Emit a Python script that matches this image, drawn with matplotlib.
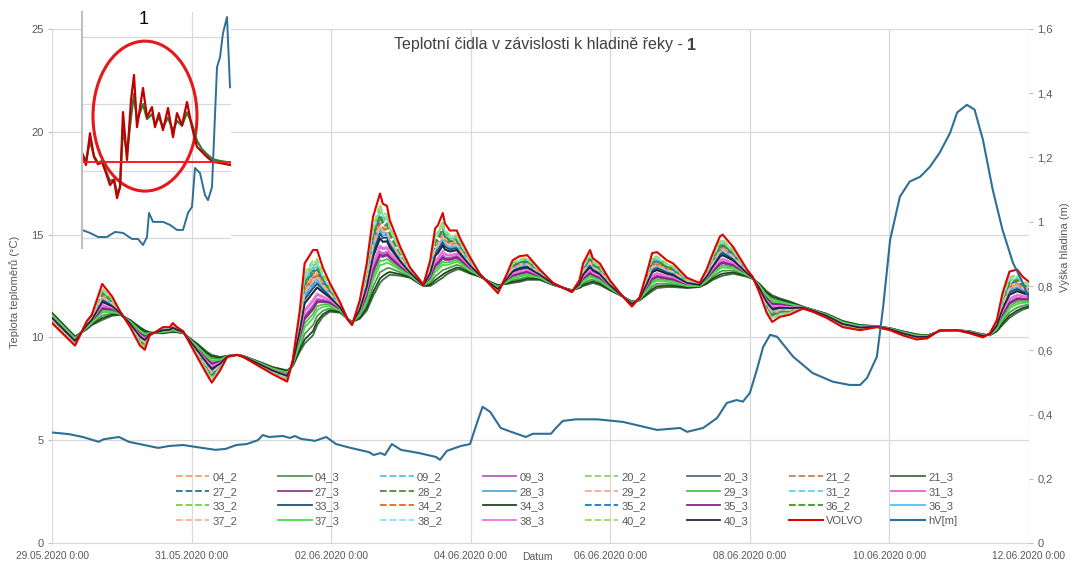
import matplotlib
matplotlib.use('Agg')
import matplotlib.pyplot as plt
import numpy as np
import pandas as pd
from matplotlib.patches import Ellipse

plt.rcParams['font.family'] = ['Liberation Sans', 'DejaVu Sans']

start = pd.Timestamp('2020-05-29')

# time of the readings, days after 29.05.2020 0:00
t_days = [
    0.00, 0.33, 0.50, 0.57, 0.72, 0.86, 0.97, 1.12, 1.26, 1.33,
    1.40, 1.50, 1.59, 1.69, 1.73, 1.79, 1.88, 2.08, 2.22, 2.29,
    2.41, 2.51, 2.65, 2.74, 2.94, 3.17, 3.37, 3.45, 3.55, 3.62,
    3.74, 3.80, 3.88, 3.98, 4.13, 4.24, 4.30, 4.41, 4.51, 4.60,
    4.70, 4.74, 4.80, 4.84, 4.99, 5.13, 5.27, 5.32, 5.42, 5.49,
    5.53, 5.60, 5.63, 5.70, 5.80, 5.85, 5.99, 6.13, 6.28, 6.39,
    6.52, 6.60, 6.70, 6.81, 6.99, 7.18, 7.45, 7.56, 7.61, 7.71,
    7.75, 7.85, 7.99, 8.14, 8.31, 8.42, 8.52, 8.60, 8.67, 8.81,
    8.90, 9.10, 9.28, 9.38, 9.47, 9.57, 9.61, 9.76, 9.96, 10.04,
    10.14, 10.24, 10.32, 10.43, 10.57, 10.76, 10.90, 11.10, 11.33, 11.58,
    11.82, 12.01, 12.19, 12.39, 12.54, 12.72, 12.97, 13.15, 13.34, 13.44,
    13.54, 13.62, 13.72, 13.83, 13.91, 14.00]

# VOLVO sensor (largest daily swing)
volvo = [
    10.7, 9.6, 10.8, 11.1, 12.6, 12.0, 11.3, 10.5, 9.6, 9.4,
    10.1, 10.3, 10.5, 10.5, 10.7, 10.5, 10.3, 9.05, 8.2, 7.8,
    8.4, 9.05, 9.15, 9.05, 8.65, 8.2, 7.85, 8.9, 11.3, 13.6,
    14.25, 14.25, 13.4, 12.65, 11.7, 10.85, 10.6, 11.8, 13.6, 15.85,
    17.0, 16.5, 16.4, 15.7, 14.4, 13.4, 12.8, 12.55, 13.75, 15.3,
    15.45, 16.05, 15.55, 15.2, 15.2, 14.8, 13.9, 13.1, 12.55, 12.15,
    13.1, 13.75, 13.95, 14.0, 13.3, 12.65, 12.2, 12.8, 13.6, 14.25,
    13.85, 13.6, 12.8, 12.15, 11.5, 11.95, 13.1, 14.1, 14.15, 13.75,
    13.6, 12.9, 12.65, 13.3, 14.1, 14.9, 15.0, 14.4, 13.3, 12.95,
    12.15, 11.2, 10.75, 11.0, 11.1, 11.4, 11.25, 10.95, 10.5, 10.35,
    10.5, 10.35, 10.1, 9.9, 9.95, 10.35, 10.35, 10.2, 10.0, 10.2,
    10.85, 12.15, 13.2, 13.3, 12.95, 12.7]

# most damped thermometer (21_3)
damped = [
    11.2, 10.05, 10.4, 10.6, 10.85, 11.05, 11.1, 10.85, 10.5, 10.35,
    10.25, 10.2, 10.2, 10.25, 10.25, 10.25, 10.2, 9.7, 9.3, 9.15,
    9.05, 9.1, 9.15, 9.1, 8.85, 8.55, 8.4, 8.6, 9.3, 9.7,
    10.1, 10.6, 11.0, 11.25, 11.2, 10.9, 10.75, 10.9, 11.3, 12.0,
    12.65, 12.8, 12.95, 13.05, 13.0, 12.9, 12.6, 12.5, 12.5, 12.65,
    12.75, 12.9, 13.0, 13.15, 13.3, 13.3, 13.1, 12.95, 12.7, 12.55,
    12.6, 12.65, 12.7, 12.8, 12.8, 12.55, 12.3, 12.4, 12.5, 12.6,
    12.65, 12.55, 12.3, 12.05, 11.75, 11.8, 12.05, 12.25, 12.4, 12.45,
    12.45, 12.4, 12.45, 12.6, 12.8, 12.95, 13.0, 13.1, 12.95, 12.85,
    12.6, 12.25, 12.05, 11.9, 11.75, 11.5, 11.35, 11.15, 10.8, 10.6,
    10.55, 10.45, 10.3, 10.15, 10.1, 10.3, 10.35, 10.3, 10.15, 10.1,
    10.3, 10.6, 10.95, 11.2, 11.35, 11.45]

sensor_names = ['04_2', '04_3', '09_2', '09_3', '20_2', '20_3', '21_2', '21_3',
                '27_2', '27_3', '28_2', '28_3', '29_2', '29_3', '31_2', '31_3',
                '33_2', '33_3', '34_2', '34_3', '35_2', '35_3', '36_2', '36_3',
                '37_2', '37_3', '38_2', '38_3', '40_2', '40_3']
# share of the VOLVO daily swing each thermometer follows (0 = 21_3, 1 = VOLVO)
sensor_swing = [0.62, 0.12, 0.78, 0.35, 0.85, 0.50, 0.68, 0.00,
                0.60, 0.30, 0.72, 0.58, 0.70, 0.25, 0.80, 0.40,
                0.82, 0.55, 0.66, 0.05, 0.74, 0.32, 0.76, 0.62,
                0.64, 0.20, 0.84, 0.42, 0.88, 0.50]
sensor_colors = ['#f4a06a', '#4f9a4f', '#5bc0eb', '#b65fc0', '#8ed36b', '#4a6d8c', '#c8804f', '#3f6f3f',
                 '#2f6f9a', '#8b3f8b', '#4f8a3a', '#5aaad8', '#f8a98a', '#4fc04f', '#66ccff', '#e066cc',
                 '#6fd43a', '#1f4e79', '#e8641e', '#1e4a1e', '#1a7ac8', '#8e1e8e', '#3a9a1a', '#4fc3f7',
                 '#ffb08a', '#44dd44', '#88ddff', '#ee77dd', '#99dd55', '#1a2a3a']

# river level hV [m]
hv_days = [0.00, 0.24, 0.44, 0.67, 0.74, 0.96, 1.10, 1.52, 1.68, 1.88,
           2.03, 2.34, 2.49, 2.64, 2.79, 2.95, 3.02, 3.11, 3.31, 3.41,
           3.48, 3.57, 3.77, 3.93, 4.07, 4.28, 4.54, 4.61, 4.71, 4.77,
           4.87, 5.00, 5.26, 5.50, 5.56, 5.66, 5.86, 5.99, 6.09, 6.17,
           6.28, 6.43, 6.58, 6.79, 6.89, 7.15, 7.22, 7.32, 7.51, 7.81,
           8.18, 8.67, 9.00, 9.10, 9.33, 9.53, 9.67, 9.81, 9.90, 10.00,
           10.10, 10.19, 10.29, 10.39, 10.62, 10.90, 11.19, 11.43, 11.58, 11.68,
           11.82, 11.91, 12.01, 12.15, 12.29, 12.44, 12.58, 12.72, 12.87, 12.97,
           13.11, 13.22, 13.34, 13.48, 13.62, 13.77, 13.91, 14.00]
hv_level = [0.344, 0.339, 0.33, 0.315, 0.323, 0.33, 0.315, 0.296, 0.302, 0.305,
            0.30, 0.29, 0.293, 0.305, 0.308, 0.32, 0.336, 0.33, 0.333, 0.327,
            0.333, 0.324, 0.318, 0.33, 0.308, 0.296, 0.283, 0.274, 0.28, 0.274,
            0.308, 0.29, 0.28, 0.268, 0.259, 0.287, 0.302, 0.308, 0.374, 0.424,
            0.408, 0.358, 0.346, 0.33, 0.34, 0.34, 0.358, 0.38, 0.385, 0.385,
            0.377, 0.352, 0.358, 0.346, 0.358, 0.389, 0.436, 0.445, 0.44, 0.467,
            0.539, 0.61, 0.648, 0.642, 0.58, 0.529, 0.502, 0.492, 0.492, 0.514,
            0.58, 0.735, 0.944, 1.078, 1.125, 1.14, 1.171, 1.215, 1.277, 1.34,
            1.364, 1.349, 1.255, 1.10, 0.975, 0.872, 0.81, 0.76]

x_tick_labels = ['29.05.2020 0:00', '31.05.2020 0:00', '02.06.2020 0:00', '04.06.2020 0:00',
                 '06.06.2020 0:00', '08.06.2020 0:00', '10.06.2020 0:00', '12.06.2020 0:00']
right_tick_labels = ['0', '0,2', '0,4', '0,6', '0,8', '1', '1,2', '1,4', '1,6']

# inset (detail of event 1)
inset_t = [0, 4, 8, 12, 16, 20, 24, 28, 32, 35, 38, 41, 45, 49, 52, 55, 61,
           65, 70, 73, 77, 81, 86, 91, 95, 100, 105, 110, 115, 120, 125, 131, 138, 148]
inset_volvo = [18.5, 18.18, 19.13, 18.42, 18.2, 18.27, 17.94, 17.58, 17.73, 17.19, 17.52, 19.76,
               18.33, 20.12, 20.87, 19.31, 20.48, 19.61, 19.91, 19.31, 19.73, 19.22, 19.88, 19.01,
               19.73, 19.37, 20.06, 19.31, 18.72, 18.57, 18.42, 18.27, 18.24, 18.18]
inset_other = [18.55, 18.3, 18.9, 18.45, 18.25, 18.3, 18.0, 17.7, 17.75, 17.35, 17.5, 19.3,
               18.5, 19.6, 20.3, 19.5, 20.0, 19.55, 19.7, 19.4, 19.6, 19.3, 19.6, 19.2,
               19.5, 19.35, 19.75, 19.4, 18.9, 18.65, 18.5, 18.35, 18.3, 18.25]
inset_hv_t = [0, 8, 16, 25, 33, 41, 50, 56, 61, 65, 67, 71, 81, 88, 95, 101, 106, 110,
              113, 118, 123, 126, 130, 135, 138, 141, 145, 148]
inset_hv = [16.24, 16.15, 16.03, 16.03, 16.18, 16.15, 15.97, 15.97, 15.79, 16.03, 16.75, 16.48,
            16.48, 16.39, 16.24, 16.24, 16.75, 16.93, 18.09, 17.94, 17.28, 17.13, 17.52, 21.1,
            21.4, 22.12, 22.6, 20.5]
inset_ref = 18.27

grid_c = '#d9d9d9'
text_c = '#595959'

t = start + pd.to_timedelta(t_days, unit='D')
t_hv = start + pd.to_timedelta(hv_days, unit='D')
volvo_a = np.array(volvo)
damped_a = np.array(damped)

fig = plt.figure(figsize=(10.72, 5.65), dpi=100)
ax = fig.add_axes([52 / 1072, 22 / 565, 977 / 1072, 514 / 565])
ax2 = ax.twinx()

handles = []
for name, w, c in zip(sensor_names, sensor_swing, sensor_colors):
    ls = '--' if name.endswith('_2') else '-'
    vals = damped_a + w * (volvo_a - damped_a)
    h, = ax.plot(t, vals, color=c, lw=1.3, ls=ls, label=name)
    handles.append(h)
h, = ax.plot(t, volvo_a, color='#e00000', lw=1.5, label='VOLVO')
handles.append(h)
h, = ax2.plot(t_hv, hv_level, color='#2e6f95', lw=1.5, label='hV[m]')
handles.append(h)

ticks = pd.date_range(start, periods=8, freq='2D')
ax.set_xlim(start, start + pd.Timedelta(days=14))
ax.set_xticks(ticks)
ax.set_xticklabels(x_tick_labels)
ax.set_ylim(0, 25)
ax.set_yticks([0, 5, 10, 15, 20, 25])
ax2.set_ylim(0, 1.6)
ax2.set_yticks(np.arange(0, 1.61, 0.2))
ax2.set_yticklabels(right_tick_labels)

ax.grid(True, color=grid_c, lw=0.9)
ax.set_axisbelow(True)
for a in (ax, ax2):
    for s in a.spines.values():
        s.set_visible(False)
ax.spines['bottom'].set_visible(True)
ax.spines['bottom'].set_color(grid_c)
ax.tick_params(axis='x', length=0, pad=6, labelsize=7.3, labelcolor=text_c)
ax.tick_params(axis='y', length=3, color='#bfbfbf', pad=3, labelsize=8, labelcolor=text_c)
ax2.tick_params(axis='y', length=3, color='#bfbfbf', pad=3, labelsize=8, labelcolor=text_c)

fig.text(15 / 1072, 1 - 292 / 565, 'Teplota teploměrů (°C)', rotation=90,
         ha='center', va='center', fontsize=8, color=text_c)
fig.text(1065 / 1072, 1 - 247 / 565, 'Výška hladina (m)', rotation=90,
         ha='center', va='center', fontsize=8, color=text_c)
fig.text(537 / 1072, 1 - 557 / 565, 'Datum', ha='center', va='center',
         fontsize=7.5, color=text_c)

fig.text(683 / 1072, 1 - 45 / 565, 'Teplotní čidla v závislosti k hladině řeky -',
         ha='right', va='center', fontsize=11.5, color='#404040')
fig.text(687 / 1072, 1 - 45 / 565, '1', ha='left', va='center',
         fontsize=11.5, color='#404040', fontweight='bold')

# legend: 8 columns, filled row by row
ncol = 8
for c in range(ncol):
    col = handles[c::ncol]
    fig.legend(col, [hh.get_label() for hh in col], loc='upper left',
               bbox_to_anchor=((176 + c * 102.2) / 1072, 1 - 472 / 565),
               frameon=False, fontsize=8, labelcolor=text_c, handlelength=3.0,
               handletextpad=0.3, labelspacing=0.42, borderpad=0, borderaxespad=0)

# inset picture of event 1
iax = fig.add_axes([82 / 1072, 1 - 248 / 565, 149 / 1072, 236 / 565])
iax.set_zorder(10)
iax.set_facecolor('white')
iax.plot(inset_t, inset_other, color='#2e7d32', lw=1.6)
iax.plot(inset_t, inset_volvo, color='#c00000', lw=1.6)
iax.plot(inset_hv_t, inset_hv, color='#2e6f95', lw=1.4)
iax.axhline(inset_ref, color='#ff1a1a', lw=1.4)
iax.add_patch(Ellipse((63, 19.64), width=104, height=4.48, fill=False,
                      ec='#e8171b', lw=2.2))
iax.set_xlim(0, 149)
iax.set_ylim(15.7, 22.75)
iax.set_yticks([16, 18, 20, 22])
iax.set_xticks([110])
iax.grid(True, color=grid_c, lw=0.9)
iax.set_axisbelow(True)
iax.tick_params(length=0, labelleft=False, labelbottom=False)
for k, s in iax.spines.items():
    s.set_visible(k == 'left')
iax.spines['left'].set_color('#bfbfbf')
iax.spines['left'].set_linewidth(1.5)
fig.text(144 / 1072, 1 - 19 / 565, '1', ha='center', va='center',
         fontsize=13, color='black', zorder=20)

fig.savefig('out.png', dpi=100)
